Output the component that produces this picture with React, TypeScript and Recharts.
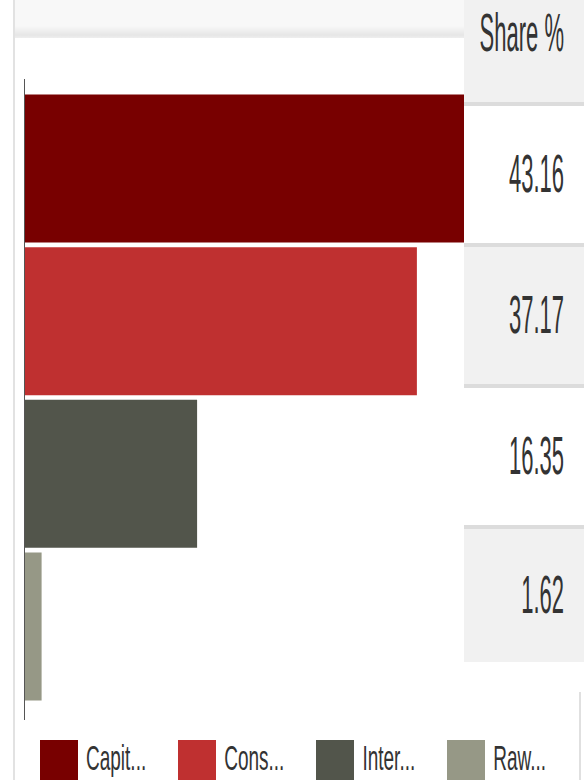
import { BarChart, Bar, XAxis, YAxis, Cell } from "recharts";

const categories = ["Capit...", "Cons...", "Inter...", "Raw..."];
const shares = [43.16, 37.17, 16.35, 1.62];
const colors = ["#780000", "#bf3030", "#52554b", "#969886"];
const tableHeader = "Share %";

const data = categories.map((name, i) => ({ name, share: shares[i] }));

const FONT = '"Liberation Sans", Arial, sans-serif';

const tallText = (size: number, scale: number): React.CSSProperties => ({
  fontFamily: FONT,
  fontSize: size,
  color: "#333",
  display: "inline-block",
  transform: `scaleY(${scale})`,
  transformOrigin: "center center",
  lineHeight: `${size}px`,
  whiteSpace: "nowrap"
});

const ShareTable = () => {
  const rows = shares.map((v, i) => {
    const top = 106 + i * 141;
    const height = i === shares.length - 1 ? 133 : 137;
    return (
      <div key={i}>
        <div style={{ position: "absolute", left: 0, top: top - 4, width: 120, height: 4, background: "#dcdcdc" }} />
        <div
          style={{
            position: "absolute",
            left: 0,
            top,
            width: 120,
            height,
            background: i % 2 === 0 ? "#ffffff" : "#f1f1f1",
            display: "flex",
            alignItems: "center",
            justifyContent: "flex-end",
            paddingRight: 20,
            boxSizing: "border-box"
          }}
        >
          <span style={tallText(22, 2.4)}>{v.toFixed(2)}</span>
        </div>
      </div>
    );
  });
  return (
    <div style={{ position: "absolute", left: 464, top: 0, width: 120, height: 666 }}>
      <div
        style={{
          position: "absolute",
          left: 0,
          top: 0,
          width: 120,
          height: 102,
          background: "#f1f1f1"
        }}
      >
        <div style={{ position: "absolute", right: 20, top: 23 }}>
          <span style={tallText(22, 2.4)}>{tableHeader}</span>
        </div>
      </div>
      {rows}
    </div>
  );
};

const LegendRow = () => (
  <div style={{ position: "absolute", left: 40, top: 740, display: "flex", gap: 32 }}>
    {categories.map((c, i) => (
      <div key={c} style={{ display: "flex", alignItems: "flex-start" }}>
        <div style={{ width: 38, height: 42, background: colors[i] }} />
        <div style={{ marginLeft: 8, marginTop: 8 }}>
          <span style={tallText(19, 1.85)}>{c}</span>
        </div>
      </div>
    ))}
  </div>
);

export default function App() {
  return (
    <div
      style={{
        position: "absolute",
        left: 0,
        top: 0,
        width: 584,
        height: 780,
        overflow: "hidden",
        background: "#fff"
      }}
    >
      <div style={{ position: "absolute", left: 13, top: 0, width: 2, height: 780, background: "#e2e2e2" }} />
      <div
        style={{
          position: "absolute",
          left: 15,
          top: 0,
          width: 449,
          height: 38,
          background:
            "linear-gradient(to bottom, #f8f8f8 0px, #f8f8f8 26px, #e6e6e6 35px, #eeeeee 38px)"
        }}
      />
      <div style={{ position: "absolute", left: 0, top: 0 }}>
        <BarChart
          width={584}
          height={780}
          layout="vertical"
          data={data}
          margin={{ top: 79, right: 0, bottom: 60, left: 0 }}
        >
          <XAxis type="number" domain={[0, 53]} hide />
          <YAxis
            type="category"
            dataKey="name"
            width={24.5}
            tick={false}
            tickLine={false}
            axisLine={{ stroke: "#555", strokeWidth: 1 }}
            padding={{ top: 13.5, bottom: 17 }}
          />
          <Bar dataKey="share" barSize={148} isAnimationActive={false}>
            {data.map((d, i) => (
              <Cell key={d.name} fill={colors[i]} />
            ))}
          </Bar>
        </BarChart>
      </div>
      <ShareTable />
      <div style={{ position: "absolute", left: 579, top: 692, width: 1.5, height: 88, background: "#e0e0e0" }} />
      <LegendRow />
    </div>
  );
}
